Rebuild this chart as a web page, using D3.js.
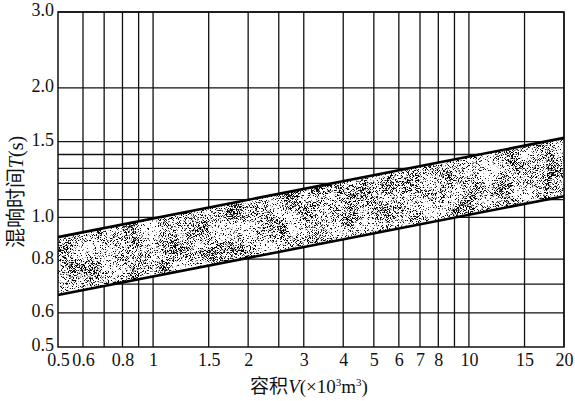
<!DOCTYPE html>
<html>
<head>
<meta charset="utf-8">
<script src="https://cdn.jsdelivr.net/npm/d3@7"></script>
<style>
  html, body { margin: 0; padding: 0; background: #fff; }
</style>
</head>
<body>
<svg id="chart" width="575" height="401"></svg>
<script>
// Volume axis (x10^3 m^3), log scale
const xTickValues = [0.5, 0.6, 0.8, 1, 1.5, 2, 3, 4, 5, 6, 7, 8, 10, 15, 20];
const xGridValues = [0.6, 0.7, 0.8, 0.9, 1, 1.5, 2, 2.5, 3, 4, 5, 6, 7, 8, 9, 10, 15, 20];
// Reverberation time axis (s), log scale
const yTickValues = [0.5, 0.6, 0.8, 1.0, 1.5, 2.0, 3.0];
const yGridValues = [0.6, 0.7, 0.8, 1.0, 1.1, 1.2, 1.3, 1.4, 1.5, 2.0, 3.0];
// Recommended reverberation range: bounds at the ends of the volume range
const volume = [0.5, 20];
const upperT = [0.90, 1.53];
const lowerT = [0.66, 1.12];

const serif = "Liberation Serif, DejaVu Serif, serif";
const svg = d3.select("#chart");
const m = { left: 58, right: 564, top: 12, bottom: 347 };

const x = d3.scaleLog().domain([0.5, 20]).range([m.left, m.right]);
const y = d3.scaleLog().domain([0.5, 3.0]).range([m.bottom, m.top]);

// grainy stipple texture for the band
const defs = svg.append("defs");
const f = defs.append("filter").attr("id", "stipple")
  .attr("x", 0).attr("y", 0).attr("width", 1).attr("height", 1)
  .attr("color-interpolation-filters", "sRGB");
f.append("feTurbulence").attr("type", "fractalNoise").attr("baseFrequency", 1.4)
  .attr("numOctaves", 1).attr("seed", 7).attr("result", "fineRaw");
f.append("feColorMatrix").attr("in", "fineRaw").attr("type", "matrix")
  .attr("values", "1 0 0 0 0  1 0 0 0 0  1 0 0 0 0  0 0 0 0 1").attr("result", "fine");
f.append("feTurbulence").attr("type", "fractalNoise").attr("baseFrequency", 0.05)
  .attr("numOctaves", 2).attr("seed", 3).attr("result", "coarseRaw");
f.append("feColorMatrix").attr("in", "coarseRaw").attr("type", "matrix")
  .attr("values", "1 0 0 0 0  1 0 0 0 0  1 0 0 0 0  0 0 0 0 1").attr("result", "coarse");
f.append("feComposite").attr("in", "fine").attr("in2", "coarse")
  .attr("operator", "arithmetic").attr("k1", 0).attr("k2", 1).attr("k3", 0.3).attr("k4", -0.15)
  .attr("result", "mix");
f.append("feColorMatrix").attr("in", "mix").attr("type", "matrix")
  .attr("values", "0 0 0 0 0  0 0 0 0 0  0 0 0 0 0  1 0 0 0 0").attr("result", "a");
const ct = f.append("feComponentTransfer").attr("in", "a").attr("result", "dots");
ct.append("feFuncA").attr("type", "linear").attr("slope", 12).attr("intercept", -6.4);
f.append("feComposite").attr("in", "dots").attr("in2", "SourceGraphic").attr("operator", "in");

// grid
const grid = svg.append("g").attr("stroke", "#111").attr("stroke-width", 1.3);
grid.selectAll("line.v").data(xGridValues).join("line").attr("class", "v")
  .attr("x1", d => x(d)).attr("x2", d => x(d))
  .attr("y1", m.top).attr("y2", m.bottom);
grid.selectAll("line.h").data(yGridValues).join("line").attr("class", "h")
  .attr("y1", d => y(d)).attr("y2", d => y(d))
  .attr("x1", m.left).attr("x2", m.right);

// band: white underlay hides the grid, then the stipple
const bandPts = volume.map((v, i) => [v, upperT[i]])
  .concat(volume.map((v, i) => [v, lowerT[i]]).reverse());
const bandPath = d3.line().x(d => x(d[0])).y(d => y(d[1]))(bandPts) + "Z";
svg.append("path").attr("d", bandPath).attr("fill", "#fff");
svg.append("path").attr("d", bandPath).attr("fill", "#000").attr("filter", "url(#stipple)");

// frame
svg.append("rect").attr("x", m.left).attr("y", m.top)
  .attr("width", m.right - m.left).attr("height", m.bottom - m.top)
  .attr("fill", "none").attr("stroke", "#111").attr("stroke-width", 1.5);

// band edges
const edge = d3.line().x(d => x(d[0])).y(d => y(d[1]));
[upperT, lowerT].forEach(vals => {
  svg.append("path").attr("d", edge(volume.map((v, i) => [v, vals[i]])))
    .attr("fill", "none").attr("stroke", "#000").attr("stroke-width", 2.6);
});

// axes (labels only)
const xAxis = svg.append("g").attr("transform", `translate(0,${m.bottom})`)
  .call(d3.axisBottom(x).tickValues(xTickValues).tickSize(0).tickPadding(6)
    .tickFormat(d3.format("")));
const yAxis = svg.append("g").attr("transform", `translate(${m.left},0)`)
  .call(d3.axisLeft(y).tickValues(yTickValues).tickSize(0).tickPadding(4)
    .tickFormat(d3.format(".1f")));
[xAxis, yAxis].forEach(g => {
  g.attr("font-family", serif).attr("font-size", 18);
  g.select(".domain").remove();
  g.selectAll("text").attr("fill", "#111");
});
yAxis.selectAll("text").attr("dy", "0.22em");

// axis titles
const xt = svg.append("text").attr("x", 309).attr("y", 393)
  .attr("text-anchor", "middle").attr("font-size", 19)
  .attr("font-family", serif).attr("fill", "#111");
xt.append("tspan").attr("font-family", "Noto Sans CJK SC").text("容积");
xt.append("tspan").attr("font-style", "italic").text("V");
xt.append("tspan").text("(×10");
xt.append("tspan").attr("font-size", 11).attr("dy", -7).text("3");
xt.append("tspan").attr("dy", 7).text("m");
xt.append("tspan").attr("font-size", 11).attr("dy", -7).text("3");
xt.append("tspan").attr("dy", 7).text(")");

const yt = svg.append("text").attr("transform", "translate(23,192) rotate(-90)")
  .attr("text-anchor", "middle").attr("font-size", 20)
  .attr("font-family", serif).attr("fill", "#111");
yt.append("tspan").attr("font-family", "Noto Sans CJK SC").text("混响时间");
yt.append("tspan").attr("font-style", "italic").text("T");
yt.append("tspan").text("(s)");
</script>
</body>
</html>
